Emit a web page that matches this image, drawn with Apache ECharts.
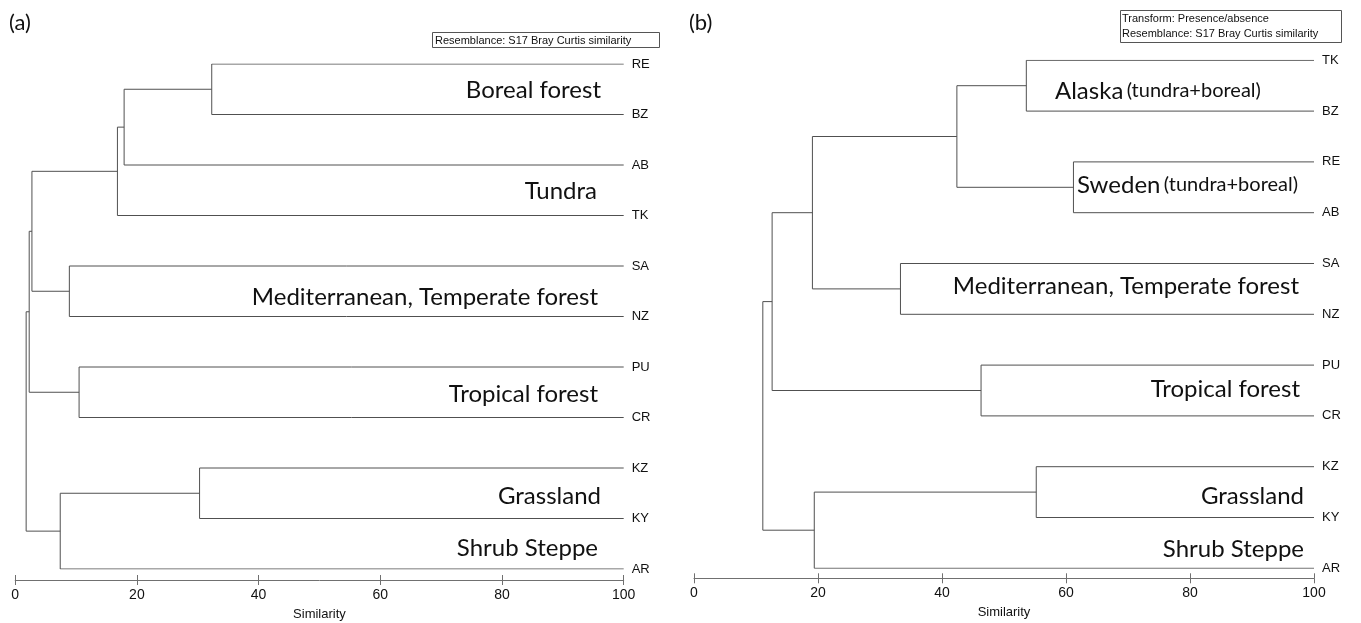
<!DOCTYPE html>
<html><head><meta charset="utf-8">
<script src="https://cdn.jsdelivr.net/npm/echarts@6/dist/echarts.min.js"></script>
<style>html,body{margin:0;padding:0;background:#fff}#c{width:1361px;height:623px}</style>
</head><body><div id="c"></div><script>
// ---- data: panel (a) ----
const leavesA = ['RE','BZ','AB','TK','SA','NZ','PU','CR','KZ','KY','AR'];
// merges: node ids 0..10 are leaves, merge k creates node 11+k
const mergeLeftA  = [0, 11, 12, 4, 13, 6, 15, 8, 18, 17];
const mergeRightA = [1,  2,  3, 5, 14, 7, 16, 9, 10, 19];
const mergeSimA   = [32.3, 17.9, 16.8, 8.9, 2.75, 10.5, 2.3, 30.3, 7.4, 1.8];
const groupsA = ['Boreal forest','Tundra','Mediterranean, Temperate forest','Tropical forest','Grassland','Shrub Steppe'];
const noteA = ['Resemblance: S17 Bray Curtis similarity'];
// ---- data: panel (b) ----
const leavesB = ['TK','BZ','RE','AB','SA','NZ','PU','CR','KZ','KY','AR'];
const mergeLeftB  = [0, 2, 11, 4, 13, 6, 15, 8, 18, 17];
const mergeRightB = [1, 3, 12, 5, 14, 7, 16, 9, 10, 19];
const mergeSimB   = [53.6, 61.2, 42.4, 33.3, 19.1, 46.3, 12.6, 55.2, 19.4, 11.1];
const groupsB = ['Alaska','Sweden','Mediterranean, Temperate forest','Tropical forest','Grassland','Shrub Steppe'];
const groupSubB = '(tundra+boreal)';
const noteB = ['Transform: Presence/absence','Resemblance: S17 Bray Curtis similarity'];
const xTicks = [0, 20, 40, 60, 80, 100];
const axisName = 'Similarity';

function buildLinks(leaves, L, R, S) {
  const nx = leaves.map(() => 100), ny = leaves.map((_, i) => i);
  const links = [];
  for (let k = 0; k < S.length; k++) {
    const a = L[k], b = R[k], s = S[k];
    links.push({coords: [[nx[a], ny[a]], [s, ny[a]], [s, ny[b]], [nx[b], ny[b]]]});
    nx.push(s); ny.push((ny[a] + ny[b]) / 2);
  }
  return links;
}

const LINE = '#505050';
const AX = '#707070';
const SANS = 'Liberation Sans, Arial, sans-serif';
const GFONT = 'Lato, "Open Sans", sans-serif';

function xAxisMain(gi, offset) {
  return {
    type: 'value', gridIndex: gi, min: xTicks[0], max: xTicks[xTicks.length - 1], interval: 20,
    splitLine: {show: false}, position: 'bottom', offset: offset,
    axisLine: {show: true, onZero: false, lineStyle: {color: AX, width: 1}},
    axisTick: {show: true, inside: false, length: 5, lineStyle: {color: AX}},
    axisLabel: {show: true, margin: 8, fontFamily: SANS, fontSize: 14, color: '#111'},
    name: axisName, nameLocation: 'middle', nameGap: 28,
    nameTextStyle: {fontFamily: SANS, fontSize: 13, color: '#111'}
  };
}
// companion axis on an overlay grid: same place, ticks pointing upward
function xAxisUp(gi, offset) {
  return {
    type: 'value', gridIndex: gi, min: xTicks[0], max: xTicks[xTicks.length - 1], interval: 20,
    splitLine: {show: false}, position: 'bottom', offset: offset,
    axisLine: {show: false, onZero: false},
    axisTick: {show: true, inside: true, length: 5, lineStyle: {color: AX}},
    axisLabel: {show: false}
  };
}
function yAxis(gi, leaves) {
  return {
    type: 'value', gridIndex: gi, min: 0, max: leaves.length - 1, interval: 1, inverse: true,
    position: 'right', axisLine: {show: false, onZero: false}, axisTick: {show: false}, splitLine: {show: false},
    axisLabel: {show: true, margin: 8, fontFamily: SANS, fontSize: 13, color: '#111',
      formatter: v => leaves[v] || ''}
  };
}
function yHidden(gi) {
  return {type: 'value', gridIndex: gi, min: 0, max: 10, show: false, axisLine: {onZero: false}};
}
function series(xi, yi, links) {
  return {
    type: 'lines', coordinateSystem: 'cartesian2d', polyline: true, xAxisIndex: xi, yAxisIndex: yi,
    silent: true, data: links, lineStyle: {color: LINE, width: 1, opacity: 1}, z: 3
  };
}
function gtext(txt, x, y, align, size) {
  return {type: 'text', x: x, y: y, z: 10, style: {text: txt, fill: '#111', font: `${size}px ${GFONT}`, align: align, verticalAlign: 'middle'}};
}
function richText(main, sub, x, y) {
  return {type: 'text', x: x, y: y, z: 10, style: {
    text: `{m|${main}} {s|${sub}}`, align: 'left', verticalAlign: 'middle',
    rich: {m: {fontFamily: GFONT, fontSize: 24, fill: '#111'}, s: {fontFamily: GFONT, fontSize: 20, fill: '#111'}}
  }};
}

const posA = [[601, 90], [597, 191], [598, 297], [598, 394], [601, 496], [598, 548]];
const posB = [[1299, 286], [1300, 389], [1304, 496], [1304, 549]];

const graphics = [
  gtext('(a)', 9, 23, 'left', 22),
  gtext('(b)', 689, 23, 'left', 22),
  {type: 'rect', shape: {x: 432.5, y: 32.5, width: 227, height: 15}, style: {fill: '#fff', stroke: '#555', lineWidth: 1}, z: 9},
  {type: 'text', x: 435, y: 40.5, z: 10, style: {text: noteA[0], font: `11px ${SANS}`, fill: '#111', verticalAlign: 'middle'}},
  {type: 'rect', shape: {x: 1120.5, y: 10.5, width: 221, height: 32}, style: {fill: '#fff', stroke: '#555', lineWidth: 1}, z: 9},
  {type: 'text', x: 1122, y: 18.5, z: 10, style: {text: noteB[0], font: `11px ${SANS}`, fill: '#111', verticalAlign: 'middle'}},
  {type: 'text', x: 1122, y: 34, z: 10, style: {text: noteB[1], font: `11px ${SANS}`, fill: '#111', verticalAlign: 'middle'}}
];
groupsA.forEach((g, i) => graphics.push(gtext(g, posA[i][0], posA[i][1], 'right', 24)));
graphics.push(richText(groupsB[0], groupSubB, 1055, 91));
graphics.push(richText(groupsB[1], groupSubB, 1077, 185));
groupsB.slice(2).forEach((g, i) => graphics.push(gtext(g, posB[i][0], posB[i][1], 'right', 24)));

const gA = {left: 15.2, top: 64, width: 608.5, height: 505, outerBoundsMode: 'none', containLabel: false};
const gB = {left: 694, top: 60.3, width: 620, height: 508, outerBoundsMode: 'none', containLabel: false};

const chart = echarts.init(document.getElementById('c'), null, {renderer: 'canvas'});
chart.setOption({
  animation: false,
  backgroundColor: '#fff',
  grid: [gA, gB, Object.assign({}, gA), Object.assign({}, gB)],
  xAxis: [xAxisMain(0, 11), xAxisMain(1, 10), xAxisUp(2, 11), xAxisUp(3, 10)],
  yAxis: [yAxis(0, leavesA), yAxis(1, leavesB), yHidden(2), yHidden(3)],
  series: [
    series(0, 0, buildLinks(leavesA, mergeLeftA, mergeRightA, mergeSimA)),
    series(1, 1, buildLinks(leavesB, mergeLeftB, mergeRightB, mergeSimB))
  ],
  graphic: graphics
});
</script></body></html>
